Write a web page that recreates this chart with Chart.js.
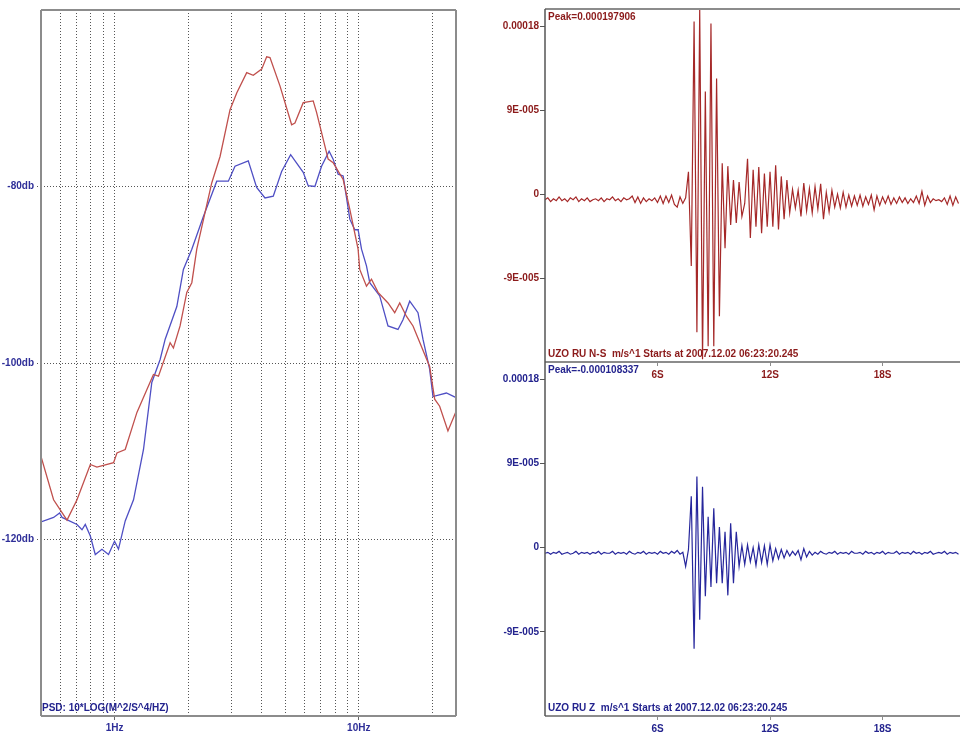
<!DOCTYPE html>
<html>
<head>
<meta charset="utf-8">
<script src="https://cdn.jsdelivr.net/npm/chart.js@4.4.1/dist/chart.umd.min.js"></script>
<style>
  html, body { margin: 0; padding: 0; background: #fff; }
  body { width: 960px; height: 738px; position: relative; overflow: hidden; }
  canvas { position: absolute; }
  #psd { left: 0; top: 0; }
  #ns { left: 480px; top: 0; }
  #z { left: 480px; top: 350px; }
</style>
</head>
<body>
<canvas id="psd" width="470" height="738"></canvas>
<canvas id="ns" width="480" height="390"></canvas>
<canvas id="z" width="480" height="388"></canvas>
<script>
// PSD spectrum (left) + two acceleration traces (right).

// --- PSD curves, frequency in Hz / level in dB ---
const psdFreqRed = [0.5, 0.563, 0.639, 0.702, 0.796, 0.847, 0.991, 1.023, 1.106, 1.235, 1.443, 1.513, 1.689, 1.742,
  1.855, 1.976, 2.072, 2.171, 2.5, 2.704, 2.971, 3.164, 3.476, 3.698, 4.004, 4.196, 4.329, 4.756, 5.309, 5.477,
  5.922, 6.506, 6.716, 7.49, 7.852, 8.628, 9.189, 9.934, 10.09, 10.75, 11.27, 11.99, 13.17, 14.03, 14.71, 15.66,
  16.67, 19.5, 20.45, 21.43, 23.17, 24.91];
const psdDbRed = [-110.6, -115.5, -117.8, -115.5, -111.5, -111.8, -111.3, -110.2, -109.8, -105.6, -101.3, -101.5,
  -97.7, -98.3, -95.8, -92.0, -90.9, -87.1, -79.6, -76.6, -71.3, -69.4, -67.1, -67.4, -66.7, -65.3, -65.4, -68.6,
  -73.0, -72.8, -70.5, -70.3, -71.6, -76.9, -77.3, -79.2, -82.6, -87.1, -89.4, -91.3, -90.5, -92.0, -93.2, -94.3,
  -93.2, -94.7, -95.8, -100.4, -104.1, -104.9, -107.7, -105.6];
const psdFreqBlue = [0.5, 0.563, 0.596, 0.61, 0.702, 0.736, 0.759, 0.796, 0.834, 0.888, 0.945, 1.0, 1.038, 1.106,
  1.196, 1.314, 1.421, 1.537, 1.612, 1.799, 1.914, 2.072, 2.311, 2.621, 2.924, 3.113, 3.528, 3.818, 4.13, 4.465,
  4.832, 5.26, 5.922, 6.206, 6.611, 7.04, 7.56, 7.852, 8.23, 8.628, 9.189, 9.63, 9.934, 10.26, 10.75, 11.09,
  12.18, 13.17, 14.47, 15.17, 16.16, 17.47, 18.31, 19.5, 20.12, 22.83, 24.91];
const psdDbBlue = [-118.0, -117.5, -117.0, -117.5, -118.3, -118.9, -118.3, -119.6, -121.7, -121.1, -121.7, -120.2,
  -121.1, -117.9, -115.5, -109.8, -102.2, -99.6, -97.3, -93.6, -89.4, -87.1, -83.4, -79.4, -79.4, -77.7, -77.1,
  -80.1, -81.3, -81.1, -78.3, -76.4, -78.4, -79.9, -80.0, -77.7, -76.0, -76.9, -78.6, -78.8, -83.7, -84.9, -84.9,
  -87.1, -89.0, -90.9, -92.4, -95.8, -96.2, -95.1, -93.0, -94.3, -97.3, -100.7, -103.8, -103.4, -103.9];

const freqGrid = [0.6, 0.7, 0.8, 0.9, 1, 2, 3, 4, 5, 6, 7, 8, 9, 10, 20];
const freqLabelValues = [1, 10];
const freqLabelText = ['1Hz', '10Hz'];
const dbTicks = [-80, -100, -120];
const dbTickText = ['-80db', '-100db', '-120db'];

// --- traces, in 1e-6 m/s^2, one sample every SAMPLE_DT seconds ---
const SAMPLE_DT = 0.15;
const nsTrace = [
  -6, -4, -8, -5, -7, -3, -7, -5, -8, -4,
  -6, -3, -8, -5, -7, -4, -8, -6, -5, -7,
  -4, -8, -5, -6, -3, -7, -5, -8, -4, -6,
  -5, -2, -9, -3, -10, -4, -8, -5, -7, -4,
  -9, -2, -10, -2, -9, -1, -11, -14, -3, -10,
  -4, 24, -77, 185, -148, 198, -177, 110, -163, 183,
  -163, 124, -131, 33, -58, 30, -33, 15, -31, 13,
  -24, -10, 38, -47, 26, -35, 29, -42, 22, -35,
  24, -35, 31, -38, 19, -27, 15, -20, 5, -15,
  4, -24, 12, -18, 6, -20, 8, -16, 11, -27,
  2, -19, 4, -14, 0, -15, 2, -14, -1, -13,
  -2, -12, -1, -13, -3, -11, -1, -17, -2, -12,
  -3, -10, -2, -11, -4, -10, -3, -9, -4, -10,
  -5, -9, -2, -10, 3, -12, -2, -9, -5, -7,
  -6, -8, -4, -11, -2, -12, -3, -10,
];
const zTrace = [
  -6, -5, -7, -5, -6, -4, -7, -6, -5, -7,
  -6, -4, -7, -5, -6, -5, -7, -5, -6, -4,
  -7, -5, -6, -6, -4, -7, -5, -6, -5, -7,
  -4, -6, -7, -5, -6, -4, -7, -5, -6, -5,
  -7, -4, -6, -5, -7, -4, -6, -3, -7, -5,
  -20, -2, 55, -108, 76, -77, 65, -52, 33, -42,
  42, -38, 22, -38, 17, -51, 26, -38, 17, -20,
  2, -18, 3, -15, 0, -19, 3, -16, 2, -18,
  3, -14, -1, -12, -2, -11, -3, -9, -4, -8,
  -3, -13, -1, -10, -4, -8, -5, -7, -4, -6,
  -7, -5, -6, -4, -7, -5, -6, -5, -7, -4,
  -6, -6, -5, -7, -4, -6, -5, -7, -5, -6,
  -4, -7, -5, -6, -6, -4, -7, -5, -6, -5,
  -7, -4, -6, -5, -7, -5, -6, -4, -7, -6,
  -5, -6, -4, -7, -5, -6, -5, -7,
];
const ampTicks = [180, 90, 0, -90];
const ampTickText = ['0.00018', '9E-005', '0', '-9E-005'];
const timeTicks = [6, 12, 18];
const timeTickText = ['6S', '12S', '18S'];

Chart.defaults.font.family = '"Liberation Sans", Arial, sans-serif';
Chart.defaults.font.size = 10;
Chart.defaults.font.weight = 'bold';
Chart.defaults.animation = false;
Chart.defaults.plugins.legend.display = false;
Chart.defaults.plugins.tooltip.enabled = false;

const FONT = 'bold 10px "Liberation Sans", Arial, sans-serif';

// frame lines and in-plot captions
function decor(opts) {
  return {
    id: 'decor',
    afterDraw(chart) {
      const { ctx, chartArea: a } = chart;
      ctx.save();
      (opts.lines || []).forEach((l) => {
        ctx.strokeStyle = l.color;
        ctx.lineWidth = l.width;
        ctx.beginPath();
        if (l.side === 'top') { ctx.moveTo(a.left, a.top); ctx.lineTo(a.right, a.top); }
        if (l.side === 'bottom') { ctx.moveTo(a.left, a.bottom); ctx.lineTo(a.right, a.bottom); }
        if (l.side === 'left') { ctx.moveTo(a.left, a.top); ctx.lineTo(a.left, a.bottom); }
        if (l.side === 'right') { ctx.moveTo(a.right, a.top); ctx.lineTo(a.right, a.bottom); }
        ctx.stroke();
      });
      ctx.font = FONT;
      ctx.fillStyle = opts.textColor;
      ctx.textAlign = 'left';
      (opts.captions || []).forEach((c) => {
        ctx.textBaseline = c.at === 'top' ? 'top' : 'bottom';
        ctx.fillText(c.text, a.left + c.dx, c.at === 'top' ? a.top + c.dy : a.bottom - c.dy);
      });
      ctx.restore();
    },
  };
}

function buildPsd() {
  const labelBlue = '#2e2e98';
  const gridGrey = '#555';
  new Chart(document.getElementById('psd'), {
    type: 'line',
    data: {
      datasets: [
        {
          data: psdFreqRed.map((f, i) => ({ x: f, y: psdDbRed[i] })),
          borderColor: '#c0504d', borderWidth: 1.3,
        },
        {
          data: psdFreqBlue.map((f, i) => ({ x: f, y: psdDbBlue[i] })),
          borderColor: '#4f4fc4', borderWidth: 1.3,
        },
      ],
    },
    options: {
      responsive: false,
      layout: { padding: { top: 10, right: 14, left: 0, bottom: 0 } },
      elements: { point: { radius: 0 }, line: { tension: 0 } },
      scales: {
        x: {
          type: 'logarithmic', min: 0.5, max: 25,
          afterFit: (s) => { s.height = 22; },
          afterBuildTicks: (s) => { s.ticks = freqGrid.map((v) => ({ value: v })); },
          ticks: {
            autoSkip: false, maxRotation: 0, color: labelBlue, padding: 2,
            callback: (v) => {
              const k = freqLabelValues.indexOf(v);
              return k >= 0 ? freqLabelText[k] : '';
            },
          },
          grid: {
            color: gridGrey, lineWidth: 1, tickLength: 4,
            tickColor: (c) => (c.tick && freqLabelValues.includes(c.tick.value) ? '#666' : 'transparent'),
          },
          border: { display: false, dash: [1, 2] },
        },
        y: {
          type: 'linear', min: -140, max: -60,
          afterFit: (s) => { s.width = 41; },
          afterBuildTicks: (s) => { s.ticks = dbTicks.map((v) => ({ value: v })); },
          ticks: {
            autoSkip: false, color: labelBlue, padding: 3,
            callback: (v) => dbTickText[dbTicks.indexOf(v)],
          },
          grid: { color: gridGrey, lineWidth: 1, tickLength: 4, tickColor: gridGrey, tickBorderDash: [1, 2] },
          border: { display: false, dash: [1, 2] },
        },
      },
    },
    plugins: [decor({
      lines: ['top', 'bottom', 'left', 'right'].map((side) => ({ side, color: '#8c8c8c', width: 2 })),
      textColor: '#23238e',
      captions: [{ text: 'PSD: 10*LOG(M^2/S^4/HZ)', at: 'bottom', dx: 1, dy: 3 }],
    })],
  });
}

function buildTrace(id, trace, opts) {
  new Chart(document.getElementById(id), {
    type: 'line',
    data: {
      datasets: [{
        data: trace.map((v, i) => ({ x: i * SAMPLE_DT, y: v })),
        borderColor: opts.lineColor, borderWidth: 1.2,
      }],
    },
    options: {
      responsive: false,
      layout: { padding: { top: opts.padTop, right: 0, left: 0, bottom: 0 } },
      elements: { point: { radius: 0 }, line: { tension: 0 } },
      scales: {
        x: {
          type: 'linear', min: 0, max: 22.13,
          afterFit: (s) => { s.height = opts.xHeight; },
          afterBuildTicks: (s) => { s.ticks = timeTicks.map((v) => ({ value: v })); },
          ticks: {
            autoSkip: false, maxRotation: 0, color: opts.xLabelColor, padding: 3,
            callback: (v) => timeTickText[timeTicks.indexOf(v)],
          },
          grid: { drawOnChartArea: false, tickLength: 4, tickColor: '#8c8c8c' },
          border: { display: false },
        },
        y: {
          type: 'linear', min: -180, max: 198.5,
          afterFit: (s) => { s.width = 65; },
          afterBuildTicks: (s) => { s.ticks = ampTicks.map((v) => ({ value: v })); },
          ticks: {
            autoSkip: false, color: opts.textColor, padding: 1,
            callback: (v) => ampTickText[ampTicks.indexOf(v)],
          },
          grid: { drawOnChartArea: false, tickLength: 5, tickColor: '#555' },
          border: { display: false },
        },
      },
    },
    plugins: [decor({
      lines: [
        ...(opts.topLine ? [{ side: 'top', color: '#8c8c8c', width: 2 }] : []),
        { side: 'bottom', color: '#8c8c8c', width: 2 },
        { side: 'left', color: '#555', width: 1.5 },
      ],
      textColor: opts.textColor,
      captions: [
        { text: opts.peak, at: 'top', dx: 3, dy: 3 },
        { text: opts.info, at: 'bottom', dx: 3, dy: 3 },
      ],
    })],
  });
}

buildPsd();
buildTrace('ns', nsTrace, {
  lineColor: '#a52828', textColor: '#8b1a1a', xLabelColor: '#8b1a1a',
  padTop: 9, xHeight: 28, topLine: true,
  peak: 'Peak=0.000197906',
  info: 'UZO RU N-S  m/s^1 Starts at 2007.12.02 06:23:20.245',
});
buildTrace('z', zTrace, {
  lineColor: '#26269c', textColor: '#23238e', xLabelColor: '#23238e',
  padTop: 12, xHeight: 22, topLine: false,
  peak: 'Peak=-0.000108337',
  info: 'UZO RU Z  m/s^1 Starts at 2007.12.02 06:23:20.245',
});
</script>
</body>
</html>
